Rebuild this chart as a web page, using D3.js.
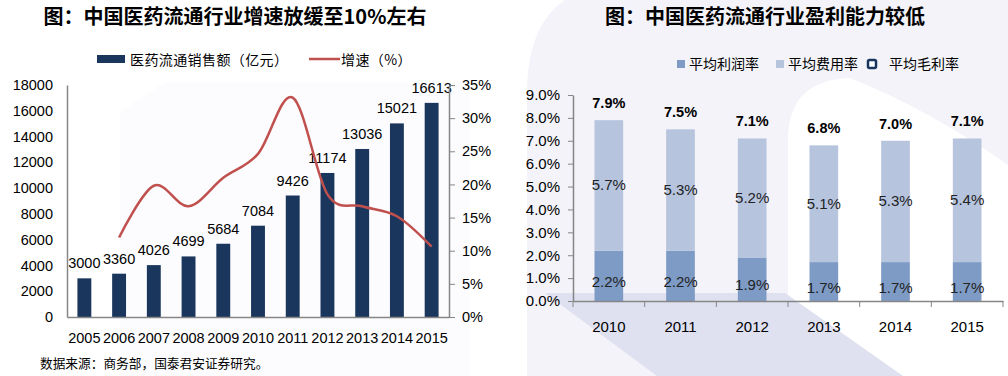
<!DOCTYPE html>
<html>
<head>
<meta charset="utf-8">
<script src="https://cdn.jsdelivr.net/npm/d3@7"></script>
<style>
  body { margin: 0; background: #fff; }
  svg { display: block; }
  .axis text { font-family: "Liberation Sans", Arial, sans-serif; fill: #000; }
  .axis path, .axis line { stroke: #868686; }
</style>
</head>
<body>
<div id="chart-area"></div>
<script>
// left chart data
var years = ['2005', '2006', '2007', '2008', '2009', '2010', '2011', '2012', '2013', '2014', '2015'];
var sales = [3000, 3360, 4026, 4699, 5684, 7084, 9426, 11174, 13036, 15021, 16613];
var growth = [null, 12.0, 19.8, 16.7, 21.0, 24.6, 33.1, 18.5, 16.7, 15.2, 10.6];
var salesTicks = [0, 2000, 4000, 6000, 8000, 10000, 12000, 14000, 16000, 18000];
var growthTicks = [0, 5, 10, 15, 20, 25, 30, 35];

// right chart data
var marginYears = ['2010', '2011', '2012', '2013', '2014', '2015'];
var profitRate = [2.2, 2.2, 1.9, 1.7, 1.7, 1.7];
var expenseRate = [5.7, 5.3, 5.2, 5.1, 5.3, 5.4];
var grossRate = [7.9, 7.5, 7.1, 6.8, 7.0, 7.1];
var marginTicks = [0, 1, 2, 3, 4, 5, 6, 7, 8, 9];

var width = 1008;
var height = 376;
var cjk = '"Noto Sans CJK SC", sans-serif';
var latin = '"Liberation Sans", Arial, sans-serif';

var svg = d3.select('#chart-area')
  .append('svg')
  .attr('width', width)
  .attr('height', height);

// faint background shapes
svg.append('rect').attr('width', width).attr('height', height).attr('fill', '#fff');
svg.append('path')
  .attr('d', 'M120,376 L120,112 L165,82 L470,82 L470,376 Z')
  .attr('fill', '#fcfcfe');
svg.append('path')
  .attr('d', 'M565,0 Q527,25 527,95 L527,376 L1008,376 L1008,0 Z')
  .attr('fill', '#f3f3f9');
svg.append('path')
  .attr('d', 'M788,376 L788,140 Q788,80 850,78 Q930,110 1008,165 L1008,376 Z')
  .attr('fill', '#fff');
svg.append('path')
  .attr('d', 'M545,293 L785,293 L903,376 L657,376 Z')
  .attr('fill', '#dfe0f0');

// ---------- left chart ----------
var left = svg.append('g');

left.append('text')
  .attr('x', 235).attr('y', 24)
  .attr('text-anchor', 'middle')
  .attr('font-family', cjk).attr('font-weight', 700).attr('font-size', '20px')
  .text('图：中国医药流通行业增速放缓至10%左右');

var x = d3.scaleBand()
  .domain(years)
  .range([67, 449])
  .paddingInner(0.6)
  .paddingOuter(0.3);

var y = d3.scaleLinear().domain([0, 18000]).range([317, 85]);
var y2 = d3.scaleLinear().domain([0, 35]).range([317, 85]);

left.selectAll('rect.bar').data(sales)
  .enter().append('rect')
  .attr('class', 'bar')
  .attr('x', (d, i) => x(years[i]))
  .attr('y', (d) => y(d))
  .attr('width', x.bandwidth())
  .attr('height', (d) => y(0) - y(d))
  .attr('fill', '#1b365d');

left.selectAll('text.val').data(sales)
  .enter().append('text')
  .attr('class', 'val')
  .attr('x', (d, i) => x(years[i]) + x.bandwidth() / 2)
  .attr('y', (d) => y(d) - 10)
  .attr('text-anchor', 'middle')
  .attr('font-family', latin).attr('font-size', '14.5px')
  .text((d) => d);

var line = d3.line()
  .defined((d) => d != null)
  .x((d, i) => x(years[i]) + x.bandwidth() / 2)
  .y((d) => y2(d))
  .curve(d3.curveCardinal.tension(0));

left.append('path')
  .datum(growth)
  .attr('d', line)
  .attr('fill', 'none')
  .attr('stroke', '#c0504d')
  .attr('stroke-width', 2.5);

left.append('g')
  .attr('class', 'axis')
  .attr('transform', 'translate(67,0)')
  .call(d3.axisLeft(y).tickValues(salesTicks).tickSize(0).tickPadding(14).tickFormat(d3.format('d')))
  .selectAll('text').attr('font-size', '14.5px');

left.append('g')
  .attr('class', 'axis')
  .attr('transform', 'translate(449,0)')
  .call(d3.axisRight(y2).tickValues(growthTicks).tickSize(6).tickSizeOuter(0).tickPadding(7)
    .tickFormat((d) => d + '%'))
  .selectAll('text').attr('font-size', '14.5px');

left.append('g')
  .attr('class', 'axis')
  .attr('transform', 'translate(0,317)')
  .call(d3.axisBottom(x).tickSize(0).tickPadding(16))
  .selectAll('text').attr('font-size', '14.5px');

left.selectAll('.axis path').attr('stroke-width', 1.5);

// legend
left.append('rect').attr('x', 97).attr('y', 55).attr('width', 28).attr('height', 8).attr('fill', '#1b365d');
left.append('text').attr('x', 130).attr('y', 65)
  .attr('font-family', cjk).attr('font-size', '14px').attr('letter-spacing', '0.4px')
  .text('医药流通销售额（亿元）');
left.append('line').attr('x1', 309).attr('x2', 340).attr('y1', 59).attr('y2', 59)
  .attr('stroke', '#c0504d').attr('stroke-width', 2.5);
left.append('text').attr('x', 341).attr('y', 65)
  .attr('font-family', cjk).attr('font-size', '14px').attr('letter-spacing', '0.4px')
  .text('增速（%）');

left.append('text')
  .attr('x', 40).attr('y', 368)
  .attr('font-family', cjk).attr('font-size', '12.7px')
  .text('数据来源：商务部，国泰君安证券研究。');

// ---------- right chart ----------
var right = svg.append('g');

right.append('text')
  .attr('x', 765).attr('y', 24)
  .attr('text-anchor', 'middle')
  .attr('font-family', cjk).attr('font-weight', 700).attr('font-size', '20px')
  .text('图：中国医药流通行业盈利能力较低');

var xr = d3.scaleBand()
  .domain(marginYears)
  .range([573, 1003])
  .paddingInner(0.6)
  .paddingOuter(0.3);

var yr = d3.scaleLinear().domain([0, 9]).range([301, 95]);

right.selectAll('rect.profit').data(profitRate)
  .enter().append('rect')
  .attr('class', 'profit')
  .attr('x', (d, i) => xr(marginYears[i]))
  .attr('y', (d) => yr(d))
  .attr('width', xr.bandwidth())
  .attr('height', (d) => yr(0) - yr(d))
  .attr('fill', '#7e9bc6');

right.selectAll('rect.expense').data(expenseRate)
  .enter().append('rect')
  .attr('class', 'expense')
  .attr('x', (d, i) => xr(marginYears[i]))
  .attr('y', (d, i) => yr(d + profitRate[i]))
  .attr('width', xr.bandwidth())
  .attr('height', (d) => yr(0) - yr(d))
  .attr('fill', '#b6c4de');

right.selectAll('text.profit').data(profitRate)
  .enter().append('text')
  .attr('class', 'profit')
  .attr('x', (d, i) => xr(marginYears[i]) + xr.bandwidth() / 2)
  .attr('y', (d) => (yr(0) + yr(d)) / 2 + 11)
  .attr('text-anchor', 'middle')
  .attr('font-family', latin).attr('font-size', '15px').attr('fill', '#222')
  .text((d) => d.toFixed(1) + '%');

right.selectAll('text.expense').data(expenseRate)
  .enter().append('text')
  .attr('class', 'expense')
  .attr('x', (d, i) => xr(marginYears[i]) + xr.bandwidth() / 2)
  .attr('y', (d, i) => (yr(profitRate[i]) + yr(d + profitRate[i])) / 2 + 5)
  .attr('text-anchor', 'middle')
  .attr('font-family', latin).attr('font-size', '15px').attr('fill', '#222')
  .text((d) => d.toFixed(1) + '%');

right.selectAll('text.gross').data(grossRate)
  .enter().append('text')
  .attr('class', 'gross')
  .attr('x', (d, i) => xr(marginYears[i]) + xr.bandwidth() / 2)
  .attr('y', (d) => yr(d) - 12)
  .attr('text-anchor', 'middle')
  .attr('font-family', latin).attr('font-weight', 700).attr('font-size', '14.5px')
  .text((d) => d.toFixed(1) + '%');

right.append('g')
  .attr('class', 'axis')
  .attr('transform', 'translate(573,0)')
  .call(d3.axisLeft(yr).tickValues(marginTicks).tickSize(5).tickSizeOuter(0).tickPadding(8)
    .tickFormat((d) => d.toFixed(1) + '%'))
  .selectAll('text').attr('font-size', '15px');

var xAxisR = right.append('g')
  .attr('class', 'axis')
  .attr('transform', 'translate(0,301)');
xAxisR.call(d3.axisBottom(xr).tickSize(0).tickSizeOuter(0).tickPadding(20))
  .selectAll('text').attr('font-size', '15px');

// tick marks sit on the category boundaries
var gap = (xr.step() - xr.bandwidth()) / 2;
var bounds = marginYears.map((d) => xr(d) - gap).concat([xr.range()[1]]);
xAxisR.selectAll('line.bound').data(bounds)
  .enter().append('line')
  .attr('class', 'bound')
  .attr('x1', (d) => d).attr('x2', (d) => d)
  .attr('y1', 0).attr('y2', 6)
  .attr('stroke', '#868686');

right.selectAll('.axis path').attr('stroke-width', 1.5);

// legend
var legendItems = [
  {label: '平均利润率', x: 677},
  {label: '平均费用率', x: 776},
  {label: '平均毛利率', x: 867}
];
right.append('rect').attr('x', 677).attr('y', 60).attr('width', 8).attr('height', 8).attr('fill', '#7e9bc6');
right.append('rect').attr('x', 776).attr('y', 60).attr('width', 8).attr('height', 8).attr('fill', '#b6c4de');
right.append('rect').attr('x', 868).attr('y', 60).attr('width', 8).attr('height', 8).attr('rx', 1.5)
  .attr('fill', '#fff').attr('stroke', '#1b365d').attr('stroke-width', 2.5);
right.selectAll('text.legend').data(legendItems)
  .enter().append('text')
  .attr('class', 'legend')
  .attr('x', (d, i) => d.x + (i == 2 ? 22 : 12))
  .attr('y', 69)
  .attr('font-family', cjk).attr('font-size', '14px')
  .text((d) => d.label);
</script>
</body>
</html>
